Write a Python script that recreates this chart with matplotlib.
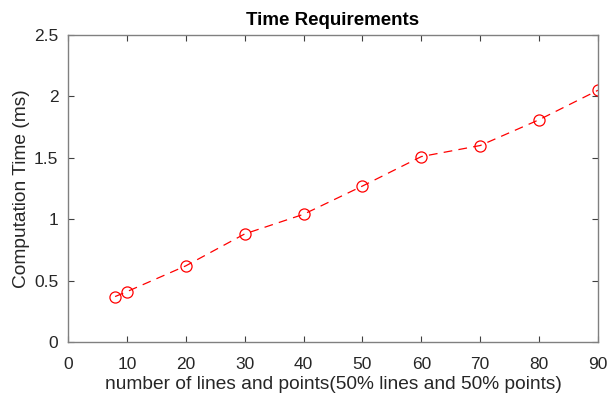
import matplotlib
matplotlib.use("Agg")
import matplotlib.pyplot as plt

x = [8, 10, 20, 30, 40, 50, 60, 70, 80, 90]
t = [0.37, 0.41, 0.62, 0.88, 1.04, 1.27, 1.51, 1.60, 1.81, 2.05]
xticks = [0, 10, 20, 30, 40, 50, 60, 70, 80, 90]
yticks = [0, 0.5, 1, 1.5, 2, 2.5]
ylabels = ["0", "0.5", "1", "1.5", "2", "2.5"]

plt.rcParams['font.family'] = ['Liberation Sans', 'DejaVu Sans']
fig = plt.figure(figsize=(6.15, 3.95), dpi=100)
ax = fig.add_axes([68/615, 53/395, 530/615, 307/395])
ax.plot(x, t, color='#ff0000', linestyle=(0, (7, 5)), linewidth=0.9,
        marker='o', markersize=8, markerfacecolor='none', markeredgecolor='#ff0000',
        markeredgewidth=0.9)
ax.set_xlim(0, 90)
ax.set_ylim(0, 2.5)
ax.set_xticks(xticks)
ax.set_yticks(yticks)
ax.set_yticklabels(ylabels)
for s in ax.spines.values():
    s.set_color('#808080')
    s.set_linewidth(1.0)
ax.tick_params(direction='in', top=True, right=True, length=4, width=0.8,
               color='#404040', labelsize=12.5, labelcolor='#262626')
ax.tick_params(axis='x', pad=11)
ax.tick_params(axis='y', pad=7)
ax.set_xlabel('number of lines and points(50% lines and 50% points)', fontsize=13.8, color='#262626', labelpad=3)
ax.set_ylabel('Computation Time (ms)', fontsize=13.8, color='#262626', labelpad=3)
ax.set_title('Time Requirements', fontsize=13.5, fontweight='bold', color='black', pad=7)
fig.savefig('out.png', dpi=100)
